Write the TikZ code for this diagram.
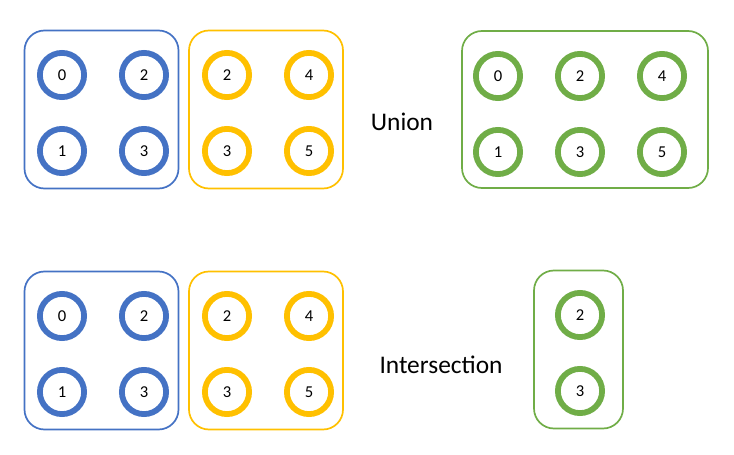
\documentclass[tikz,border=0pt]{standalone}
\usepackage{fontspec}
\setmainfont{Carlito}
\usetikzlibrary{positioning,fit}
\definecolor{setblue}{HTML}{4472C4}
\definecolor{setyellow}{HTML}{FFC000}
\definecolor{setgreen}{HTML}{70AD47}

\begin{document}
\begin{tikzpicture}[
    x=0.5pt, y=-0.5pt,
    node distance=13pt and 16pt,
    elem/.style={circle, draw=#1, line width=2.9pt, minimum size=22.1pt, inner sep=0pt, font=\fontsize{8.3}{9}\selectfont},
    setbox/.style={rectangle, draw=#1, line width=0.85pt, rounded corners=10pt, inner xsep=5.5pt, inner ysep=8pt, yshift=1.75pt},
    op/.style={font=\fontsize{12.7}{15}\selectfont}
]
\useasboundingbox (0,0) rectangle (734,455);

% Union: first set
\node[elem=setblue] (A0) at (62,75) {0};
\node[elem=setblue, right=of A0] (A2) {2};
\node[elem=setblue, below=of A0] (A1) {1};
\node[elem=setblue, right=of A1] (A3) {3};
\node[setbox=setblue, xshift=-0.75pt, fit=(A0)(A1)(A2)(A3)] (A) {};

% Union: second set
\node[elem=setyellow] (B2) at (227,75) {2};
\node[elem=setyellow, right=of B2] (B4) {4};
\node[elem=setyellow, below=of B2] (B3) {3};
\node[elem=setyellow, right=of B3] (B5) {5};
\node[setbox=setyellow, xshift=-1pt, fit=(B2)(B3)(B4)(B5)] (B) {};

\node[op] (union) at (402,122) {Union};

% Union: result
\node[elem=setgreen] (U0) at (498,76) {0};
\node[elem=setgreen, right=of U0] (U2) {2};
\node[elem=setgreen, right=of U2] (U4) {4};
\node[elem=setgreen, below=of U0] (U1) {1};
\node[elem=setgreen, right=of U1] (U3) {3};
\node[elem=setgreen, right=of U3] (U5) {5};
\node[setbox=setgreen, inner xsep=8pt, inner ysep=7.75pt, xshift=2.5pt, yshift=0.5pt, fit=(U0)(U1)(U4)(U5)] (U) {};

% Intersection: first set
\node[elem=setblue] (C0) at (62,316) {0};
\node[elem=setblue, right=of C0] (C2) {2};
\node[elem=setblue, below=of C0] (C1) {1};
\node[elem=setblue, right=of C1] (C3) {3};
\node[setbox=setblue, xshift=-0.75pt, fit=(C0)(C1)(C2)(C3)] (C) {};

% Intersection: second set
\node[elem=setyellow] (D2) at (227,316) {2};
\node[elem=setyellow, right=of D2] (D4) {4};
\node[elem=setyellow, below=of D2] (D3) {3};
\node[elem=setyellow, right=of D3] (D5) {5};
\node[setbox=setyellow, xshift=-1pt, fit=(D2)(D3)(D4)(D5)] (D) {};

\node[op] (inter) at (441,365) {Intersection};

% Intersection: result
\node[elem=setgreen] (I2) at (580,315) {2};
\node[elem=setgreen, below=of I2] (I3) {3};
\node[setbox=setgreen, inner xsep=9.75pt, xshift=-0.75pt, fit=(I2)(I3)] (I) {};

\end{tikzpicture}
\end{document}
